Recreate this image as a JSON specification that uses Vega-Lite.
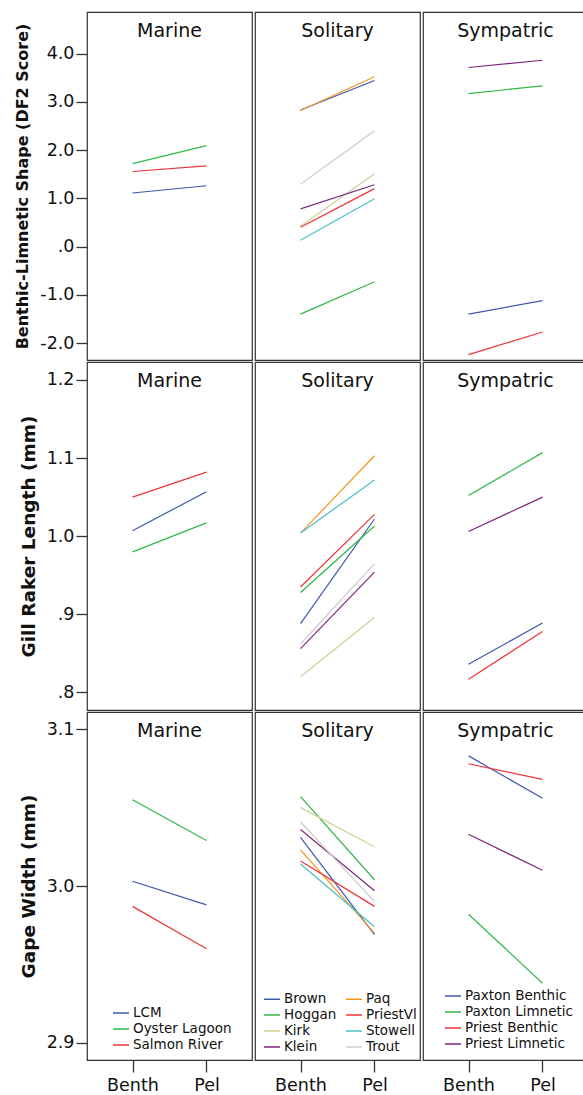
{
  "$schema": "https://vega.github.io/schema/vega-lite/v6.json",
  "padding": {"left": 14, "top": 11, "right": 0, "bottom": 0},
  "background": "white",
  "datasets": {
    "d": [
      {"trait": "DF2", "group": "Marine", "pop": "LCM", "stage": "Benth", "value": 1.11},
      {"trait": "DF2", "group": "Marine", "pop": "LCM", "stage": "Pel", "value": 1.26},
      {"trait": "DF2", "group": "Marine", "pop": "Oyster Lagoon", "stage": "Benth", "value": 1.72},
      {"trait": "DF2", "group": "Marine", "pop": "Oyster Lagoon", "stage": "Pel", "value": 2.09},
      {"trait": "DF2", "group": "Marine", "pop": "Salmon River", "stage": "Benth", "value": 1.555},
      {"trait": "DF2", "group": "Marine", "pop": "Salmon River", "stage": "Pel", "value": 1.673},
      {"trait": "DF2", "group": "Solitary", "pop": "Brown", "stage": "Benth", "value": 2.83},
      {"trait": "DF2", "group": "Solitary", "pop": "Brown", "stage": "Pel", "value": 3.44},
      {"trait": "DF2", "group": "Solitary", "pop": "Hoggan", "stage": "Benth", "value": -1.4},
      {"trait": "DF2", "group": "Solitary", "pop": "Hoggan", "stage": "Pel", "value": -0.73},
      {"trait": "DF2", "group": "Solitary", "pop": "Kirk", "stage": "Benth", "value": 0.42},
      {"trait": "DF2", "group": "Solitary", "pop": "Kirk", "stage": "Pel", "value": 1.51},
      {"trait": "DF2", "group": "Solitary", "pop": "Klein", "stage": "Benth", "value": 0.78},
      {"trait": "DF2", "group": "Solitary", "pop": "Klein", "stage": "Pel", "value": 1.28},
      {"trait": "DF2", "group": "Solitary", "pop": "Paq", "stage": "Benth", "value": 2.82},
      {"trait": "DF2", "group": "Solitary", "pop": "Paq", "stage": "Pel", "value": 3.52},
      {"trait": "DF2", "group": "Solitary", "pop": "PriestVl", "stage": "Benth", "value": 0.4},
      {"trait": "DF2", "group": "Solitary", "pop": "PriestVl", "stage": "Pel", "value": 1.2},
      {"trait": "DF2", "group": "Solitary", "pop": "Stowell", "stage": "Benth", "value": 0.13},
      {"trait": "DF2", "group": "Solitary", "pop": "Stowell", "stage": "Pel", "value": 0.99},
      {"trait": "DF2", "group": "Solitary", "pop": "Trout", "stage": "Benth", "value": 1.29},
      {"trait": "DF2", "group": "Solitary", "pop": "Trout", "stage": "Pel", "value": 2.4},
      {"trait": "DF2", "group": "Sympatric", "pop": "Paxton Benthic", "stage": "Benth", "value": -1.4},
      {"trait": "DF2", "group": "Sympatric", "pop": "Paxton Benthic", "stage": "Pel", "value": -1.12},
      {"trait": "DF2", "group": "Sympatric", "pop": "Paxton Limnetic", "stage": "Benth", "value": 3.17},
      {"trait": "DF2", "group": "Sympatric", "pop": "Paxton Limnetic", "stage": "Pel", "value": 3.33},
      {"trait": "DF2", "group": "Sympatric", "pop": "Priest Benthic", "stage": "Benth", "value": -2.24},
      {"trait": "DF2", "group": "Sympatric", "pop": "Priest Benthic", "stage": "Pel", "value": -1.77},
      {"trait": "DF2", "group": "Sympatric", "pop": "Priest Limnetic", "stage": "Benth", "value": 3.71},
      {"trait": "DF2", "group": "Sympatric", "pop": "Priest Limnetic", "stage": "Pel", "value": 3.86},

      {"trait": "Gill", "group": "Marine", "pop": "LCM", "stage": "Benth", "value": 1.007},
      {"trait": "Gill", "group": "Marine", "pop": "LCM", "stage": "Pel", "value": 1.057},
      {"trait": "Gill", "group": "Marine", "pop": "Oyster Lagoon", "stage": "Benth", "value": 0.98},
      {"trait": "Gill", "group": "Marine", "pop": "Oyster Lagoon", "stage": "Pel", "value": 1.017},
      {"trait": "Gill", "group": "Marine", "pop": "Salmon River", "stage": "Benth", "value": 1.05},
      {"trait": "Gill", "group": "Marine", "pop": "Salmon River", "stage": "Pel", "value": 1.082},
      {"trait": "Gill", "group": "Solitary", "pop": "Brown", "stage": "Benth", "value": 0.888},
      {"trait": "Gill", "group": "Solitary", "pop": "Brown", "stage": "Pel", "value": 1.022},
      {"trait": "Gill", "group": "Solitary", "pop": "Hoggan", "stage": "Benth", "value": 0.928},
      {"trait": "Gill", "group": "Solitary", "pop": "Hoggan", "stage": "Pel", "value": 1.013},
      {"trait": "Gill", "group": "Solitary", "pop": "Kirk", "stage": "Benth", "value": 0.82},
      {"trait": "Gill", "group": "Solitary", "pop": "Kirk", "stage": "Pel", "value": 0.896},
      {"trait": "Gill", "group": "Solitary", "pop": "Klein", "stage": "Benth", "value": 0.856},
      {"trait": "Gill", "group": "Solitary", "pop": "Klein", "stage": "Pel", "value": 0.954},
      {"trait": "Gill", "group": "Solitary", "pop": "Paq", "stage": "Benth", "value": 1.004},
      {"trait": "Gill", "group": "Solitary", "pop": "Paq", "stage": "Pel", "value": 1.103},
      {"trait": "Gill", "group": "Solitary", "pop": "PriestVl", "stage": "Benth", "value": 0.935},
      {"trait": "Gill", "group": "Solitary", "pop": "PriestVl", "stage": "Pel", "value": 1.028},
      {"trait": "Gill", "group": "Solitary", "pop": "Stowell", "stage": "Benth", "value": 1.004},
      {"trait": "Gill", "group": "Solitary", "pop": "Stowell", "stage": "Pel", "value": 1.072},
      {"trait": "Gill", "group": "Solitary", "pop": "Trout", "stage": "Benth", "value": 0.862},
      {"trait": "Gill", "group": "Solitary", "pop": "Trout", "stage": "Pel", "value": 0.965},
      {"trait": "Gill", "group": "Sympatric", "pop": "Paxton Benthic", "stage": "Benth", "value": 0.836},
      {"trait": "Gill", "group": "Sympatric", "pop": "Paxton Benthic", "stage": "Pel", "value": 0.889},
      {"trait": "Gill", "group": "Sympatric", "pop": "Paxton Limnetic", "stage": "Benth", "value": 1.052},
      {"trait": "Gill", "group": "Sympatric", "pop": "Paxton Limnetic", "stage": "Pel", "value": 1.107},
      {"trait": "Gill", "group": "Sympatric", "pop": "Priest Benthic", "stage": "Benth", "value": 0.817},
      {"trait": "Gill", "group": "Sympatric", "pop": "Priest Benthic", "stage": "Pel", "value": 0.878},
      {"trait": "Gill", "group": "Sympatric", "pop": "Priest Limnetic", "stage": "Benth", "value": 1.006},
      {"trait": "Gill", "group": "Sympatric", "pop": "Priest Limnetic", "stage": "Pel", "value": 1.05},

      {"trait": "Gape", "group": "Marine", "pop": "LCM", "stage": "Benth", "value": 3.003},
      {"trait": "Gape", "group": "Marine", "pop": "LCM", "stage": "Pel", "value": 2.988},
      {"trait": "Gape", "group": "Marine", "pop": "Oyster Lagoon", "stage": "Benth", "value": 3.055},
      {"trait": "Gape", "group": "Marine", "pop": "Oyster Lagoon", "stage": "Pel", "value": 3.029},
      {"trait": "Gape", "group": "Marine", "pop": "Salmon River", "stage": "Benth", "value": 2.987},
      {"trait": "Gape", "group": "Marine", "pop": "Salmon River", "stage": "Pel", "value": 2.96},
      {"trait": "Gape", "group": "Solitary", "pop": "Brown", "stage": "Benth", "value": 3.031},
      {"trait": "Gape", "group": "Solitary", "pop": "Brown", "stage": "Pel", "value": 2.969},
      {"trait": "Gape", "group": "Solitary", "pop": "Hoggan", "stage": "Benth", "value": 3.057},
      {"trait": "Gape", "group": "Solitary", "pop": "Hoggan", "stage": "Pel", "value": 3.004},
      {"trait": "Gape", "group": "Solitary", "pop": "Kirk", "stage": "Benth", "value": 3.05},
      {"trait": "Gape", "group": "Solitary", "pop": "Kirk", "stage": "Pel", "value": 3.025},
      {"trait": "Gape", "group": "Solitary", "pop": "Klein", "stage": "Benth", "value": 3.036},
      {"trait": "Gape", "group": "Solitary", "pop": "Klein", "stage": "Pel", "value": 2.997},
      {"trait": "Gape", "group": "Solitary", "pop": "Paq", "stage": "Benth", "value": 3.023},
      {"trait": "Gape", "group": "Solitary", "pop": "Paq", "stage": "Pel", "value": 2.97},
      {"trait": "Gape", "group": "Solitary", "pop": "PriestVl", "stage": "Benth", "value": 3.016},
      {"trait": "Gape", "group": "Solitary", "pop": "PriestVl", "stage": "Pel", "value": 2.987},
      {"trait": "Gape", "group": "Solitary", "pop": "Stowell", "stage": "Benth", "value": 3.014},
      {"trait": "Gape", "group": "Solitary", "pop": "Stowell", "stage": "Pel", "value": 2.974},
      {"trait": "Gape", "group": "Solitary", "pop": "Trout", "stage": "Benth", "value": 3.041},
      {"trait": "Gape", "group": "Solitary", "pop": "Trout", "stage": "Pel", "value": 2.99},
      {"trait": "Gape", "group": "Sympatric", "pop": "Paxton Benthic", "stage": "Benth", "value": 3.083},
      {"trait": "Gape", "group": "Sympatric", "pop": "Paxton Benthic", "stage": "Pel", "value": 3.056},
      {"trait": "Gape", "group": "Sympatric", "pop": "Paxton Limnetic", "stage": "Benth", "value": 2.982},
      {"trait": "Gape", "group": "Sympatric", "pop": "Paxton Limnetic", "stage": "Pel", "value": 2.938},
      {"trait": "Gape", "group": "Sympatric", "pop": "Priest Benthic", "stage": "Benth", "value": 3.078},
      {"trait": "Gape", "group": "Sympatric", "pop": "Priest Benthic", "stage": "Pel", "value": 3.068},
      {"trait": "Gape", "group": "Sympatric", "pop": "Priest Limnetic", "stage": "Benth", "value": 3.033},
      {"trait": "Gape", "group": "Sympatric", "pop": "Priest Limnetic", "stage": "Pel", "value": 3.01}
    ]
  },
  "columns": 3,
  "spacing": {"row": 0, "column": 1},
  "resolve": {
    "scale": {"x": "independent", "y": "independent", "color": "independent"},
    "axis": {"x": "independent", "y": "independent"},
    "legend": {"color": "independent"}
  },
  "concat": [
    {
      "width": 165, "height": 348,
      "data": {"name": "d"},
      "title": "Marine",
      "transform": [{"filter": "datum.trait == 'DF2' && datum.group == 'Marine'"}],
      "mark": {"type": "line", "strokeWidth": 1.2},
      "encoding": {
        "x": {"field": "stage", "type": "ordinal", "scale": {"type": "point", "padding": 0.615, "domain": ["Benth", "Pel"]}, "axis": null},
        "y": {"field": "value", "type": "quantitative", "scale": {"domain": [-2.35, 4.86], "nice": false, "zero": false},
          "axis": {"values": [-2, -1, 0, 1, 2, 3, 4], "labelExpr": "datum.value == 0 ? '.0' : replace(format(datum.value, '.1f'), '−', '-')", "title": "Benthic-Limnetic Shape (DF2 Score)", "titleFontSize": 16, "titlePadding": 9}},
        "color": {"field": "pop", "type": "nominal", "scale": {"domain": ["LCM", "Oyster Lagoon", "Salmon River"], "range": ["#3E58AC", "#2EB848", "#EF3338"]}, "legend": null}
      }
    },
    {
      "width": 165, "height": 348,
      "data": {"name": "d"},
      "title": "Solitary",
      "transform": [{"filter": "datum.trait == 'DF2' && datum.group == 'Solitary'"}],
      "mark": {"type": "line", "strokeWidth": 1.2},
      "encoding": {
        "x": {"field": "stage", "type": "ordinal", "scale": {"type": "point", "padding": 0.615, "domain": ["Benth", "Pel"]}, "axis": null},
        "y": {"field": "value", "type": "quantitative", "scale": {"domain": [-2.35, 4.86], "nice": false, "zero": false}, "axis": null},
        "color": {"field": "pop", "type": "nominal", "scale": {"domain": ["Brown", "Hoggan", "Kirk", "Klein", "Paq", "PriestVl", "Stowell", "Trout"], "range": ["#3E58AC", "#2EB848", "#D3CE97", "#7C287D", "#F7941D", "#EF3338", "#48C2C5", "#CCCCCC"]}, "legend": null}
      }
    },
    {
      "width": 165, "height": 348,
      "data": {"name": "d"},
      "title": "Sympatric",
      "transform": [{"filter": "datum.trait == 'DF2' && datum.group == 'Sympatric'"}],
      "mark": {"type": "line", "strokeWidth": 1.2},
      "encoding": {
        "x": {"field": "stage", "type": "ordinal", "scale": {"type": "point", "padding": 0.615, "domain": ["Benth", "Pel"]}, "axis": null},
        "y": {"field": "value", "type": "quantitative", "scale": {"domain": [-2.35, 4.86], "nice": false, "zero": false}, "axis": null},
        "color": {"field": "pop", "type": "nominal", "scale": {"domain": ["Paxton Benthic", "Paxton Limnetic", "Priest Benthic", "Priest Limnetic"], "range": ["#3E58AC", "#2EB848", "#EF3338", "#7C287D"]}, "legend": null}
      }
    },
    {
      "width": 165, "height": 348,
      "data": {"name": "d"},
      "title": "Marine",
      "transform": [{"filter": "datum.trait == 'Gill' && datum.group == 'Marine'"}],
      "mark": {"type": "line", "strokeWidth": 1.2},
      "encoding": {
        "x": {"field": "stage", "type": "ordinal", "scale": {"type": "point", "padding": 0.615, "domain": ["Benth", "Pel"]}, "axis": null},
        "y": {"field": "value", "type": "quantitative", "scale": {"domain": [0.7775, 1.223], "nice": false, "zero": false},
          "axis": {"values": [0.8, 0.9, 1.0, 1.1, 1.2], "labelExpr": "datum.value < 1 ? replace(format(datum.value, '.1f'), '0.', '.') : format(datum.value, '.1f')", "title": "Gill Raker Length (mm)", "titleFontSize": 18.5, "titlePadding": 8}},
        "color": {"field": "pop", "type": "nominal", "scale": {"domain": ["LCM", "Oyster Lagoon", "Salmon River"], "range": ["#3E58AC", "#2EB848", "#EF3338"]}, "legend": null}
      }
    },
    {
      "width": 165, "height": 348,
      "data": {"name": "d"},
      "title": "Solitary",
      "transform": [{"filter": "datum.trait == 'Gill' && datum.group == 'Solitary'"}],
      "mark": {"type": "line", "strokeWidth": 1.2},
      "encoding": {
        "x": {"field": "stage", "type": "ordinal", "scale": {"type": "point", "padding": 0.615, "domain": ["Benth", "Pel"]}, "axis": null},
        "y": {"field": "value", "type": "quantitative", "scale": {"domain": [0.7775, 1.223], "nice": false, "zero": false}, "axis": null},
        "color": {"field": "pop", "type": "nominal", "scale": {"domain": ["Brown", "Hoggan", "Kirk", "Klein", "Paq", "PriestVl", "Stowell", "Trout"], "range": ["#3E58AC", "#2EB848", "#D3CE97", "#7C287D", "#F7941D", "#EF3338", "#48C2C5", "#CCCCCC"]}, "legend": null}
      }
    },
    {
      "width": 165, "height": 348,
      "data": {"name": "d"},
      "title": "Sympatric",
      "transform": [{"filter": "datum.trait == 'Gill' && datum.group == 'Sympatric'"}],
      "mark": {"type": "line", "strokeWidth": 1.2},
      "encoding": {
        "x": {"field": "stage", "type": "ordinal", "scale": {"type": "point", "padding": 0.615, "domain": ["Benth", "Pel"]}, "axis": null},
        "y": {"field": "value", "type": "quantitative", "scale": {"domain": [0.7775, 1.223], "nice": false, "zero": false}, "axis": null},
        "color": {"field": "pop", "type": "nominal", "scale": {"domain": ["Paxton Benthic", "Paxton Limnetic", "Priest Benthic", "Priest Limnetic"], "range": ["#3E58AC", "#2EB848", "#EF3338", "#7C287D"]}, "legend": null}
      }
    },
    {
      "width": 165, "height": 348,
      "data": {"name": "d"},
      "title": "Marine",
      "transform": [{"filter": "datum.trait == 'Gape' && datum.group == 'Marine'"}],
      "mark": {"type": "line", "strokeWidth": 1.2},
      "encoding": {
        "x": {"field": "stage", "type": "ordinal", "scale": {"type": "point", "padding": 0.615, "domain": ["Benth", "Pel"]},
          "axis": {"title": null, "labelAngle": 0, "labelFontSize": 17.5, "tickSize": 12, "labelPadding": 4}},
        "y": {"field": "value", "type": "quantitative", "scale": {"domain": [2.889, 3.111], "nice": false, "zero": false},
          "axis": {"values": [2.9, 3.0, 3.1], "format": ".1f", "title": "Gape Width (mm)", "titleFontSize": 18.5, "titlePadding": 8}},
        "color": {"field": "pop", "type": "nominal", "scale": {"domain": ["LCM", "Oyster Lagoon", "Salmon River"], "range": ["#3E58AC", "#2EB848", "#EF3338"]},
          "legend": {"orient": "none", "legendX": 25, "legendY": 292, "title": null}}
      }
    },
    {
      "width": 165, "height": 348,
      "data": {"name": "d"},
      "title": "Solitary",
      "transform": [{"filter": "datum.trait == 'Gape' && datum.group == 'Solitary'"}],
      "mark": {"type": "line", "strokeWidth": 1.2},
      "encoding": {
        "x": {"field": "stage", "type": "ordinal", "scale": {"type": "point", "padding": 0.615, "domain": ["Benth", "Pel"]},
          "axis": {"title": null, "labelAngle": 0, "labelFontSize": 17.5, "tickSize": 12, "labelPadding": 4}},
        "y": {"field": "value", "type": "quantitative", "scale": {"domain": [2.889, 3.111], "nice": false, "zero": false}, "axis": null},
        "color": {"field": "pop", "type": "nominal", "scale": {"domain": ["Brown", "Hoggan", "Kirk", "Klein", "Paq", "PriestVl", "Stowell", "Trout"], "range": ["#3E58AC", "#2EB848", "#D3CE97", "#7C287D", "#F7941D", "#EF3338", "#48C2C5", "#CCCCCC"]},
          "legend": {"orient": "none", "legendX": 8, "legendY": 278, "title": null, "columns": 2, "columnPadding": 6}}
      }
    },
    {
      "width": 165, "height": 348,
      "data": {"name": "d"},
      "title": "Sympatric",
      "transform": [{"filter": "datum.trait == 'Gape' && datum.group == 'Sympatric'"}],
      "mark": {"type": "line", "strokeWidth": 1.2},
      "encoding": {
        "x": {"field": "stage", "type": "ordinal", "scale": {"type": "point", "padding": 0.615, "domain": ["Benth", "Pel"]},
          "axis": {"title": null, "labelAngle": 0, "labelFontSize": 17.5, "tickSize": 12, "labelPadding": 4}},
        "y": {"field": "value", "type": "quantitative", "scale": {"domain": [2.889, 3.111], "nice": false, "zero": false}, "axis": null},
        "color": {"field": "pop", "type": "nominal", "scale": {"domain": ["Paxton Benthic", "Paxton Limnetic", "Priest Benthic", "Priest Limnetic"], "range": ["#3E58AC", "#2EB848", "#EF3338", "#7C287D"]},
          "legend": {"orient": "none", "legendX": 21, "legendY": 275, "title": null}}
      }
    }
  ],
  "config": {
    "font": "DejaVu Sans",
    "view": {"stroke": "#333333", "strokeWidth": 1.2},
    "axis": {"grid": false, "domain": false, "tickColor": "#333333", "tickWidth": 1.3, "tickSize": 11, "labelFontSize": 17.5, "labelColor": "#111111", "titleColor": "#111111", "titleFontWeight": "bold", "labelPadding": 2},
    "title": {"fontSize": 19, "fontWeight": "normal", "color": "#111111", "offset": -29, "baseline": "middle", "anchor": "middle"},
    "legend": {"symbolType": "stroke", "symbolSize": 256, "symbolStrokeWidth": 1.5, "labelFontSize": 13.5, "labelColor": "#111111", "rowPadding": 0, "padding": 0, "labelOffset": 3}
  }
}
